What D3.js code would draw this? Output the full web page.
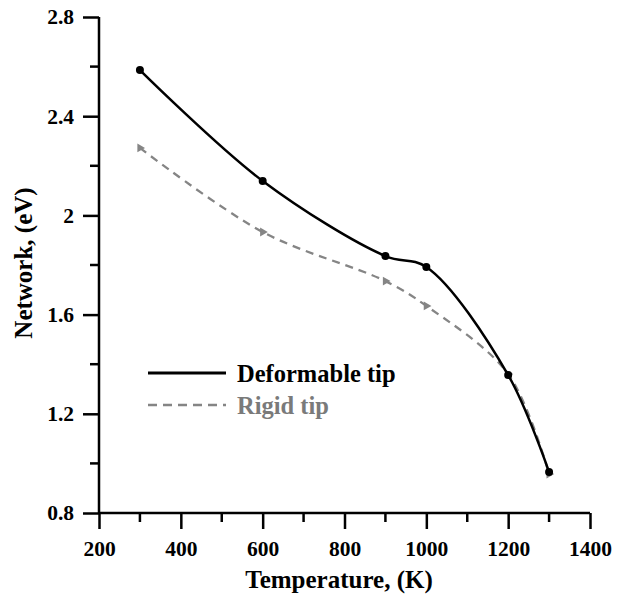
<!DOCTYPE html>
<html><head><meta charset="utf-8">
<script src="https://cdn.jsdelivr.net/npm/d3@7"></script>
<style>body{margin:0;background:#fff}svg{display:block}</style>
</head><body>
<svg id="c" width="623" height="598"></svg>
<script>
const temps = [300, 600, 900, 1000, 1200, 1300];
const deformable = [2.586, 2.139, 1.836, 1.792, 1.356, 0.965];
const rigid = [2.272, 1.933, 1.735, 1.635, 1.360, 0.957];
const xTicks = [200, 400, 600, 800, 1000, 1200, 1400];
const yTicks = [0.8, 1.2, 1.6, 2.0, 2.4, 2.8];
const seriesNames = ["Deformable tip", "Rigid tip"];

const svg = d3.select("#c");
const font = "'Liberation Serif','Times New Roman',serif";
const x = d3.scaleLinear().domain([200, 1400]).range([99, 590]);
const y = d3.scaleLinear().domain([0.8, 2.8]).range([513, 17]);

// axes
const xAxis = svg.append("g").attr("transform", `translate(0,${y(0.8)})`)
  .call(d3.axisBottom(x).tickValues(xTicks).tickFormat(d3.format("d")).tickSize(16).tickPadding(12));
const yAxis = svg.append("g").attr("transform", `translate(${x(200)},0)`)
  .call(d3.axisLeft(y).tickValues(yTicks).tickFormat(d => d === 2 ? "2" : d3.format(".1f")(d)).tickSize(16).tickPadding(9));
[xAxis, yAxis].forEach(a => {
  a.select(".domain").attr("stroke", "#000").attr("stroke-width", 2.5);
  a.selectAll(".tick line").attr("stroke", "#000").attr("stroke-width", 2.5);
  a.selectAll(".tick text").attr("font-family", font).attr("font-weight", "bold").attr("font-size", 21.5).attr("fill", "#000");
});
xAxis.select(".domain").attr("d", `M${x(200)},0H${x(1400)}`);
yAxis.select(".domain").attr("d", `M0,${y(0.8)}V${y(2.8)}`);
// minor ticks
const xMinor = d3.range(300, 1400, 200);
svg.append("g").selectAll("line").data(xMinor).join("line")
  .attr("x1", d => x(d)).attr("x2", d => x(d)).attr("y1", y(0.8)).attr("y2", y(0.8) + 9)
  .attr("stroke", "#000").attr("stroke-width", 2.5);
const yMinor = [1.0, 1.4, 1.8, 2.2, 2.6];
svg.append("g").selectAll("line").data(yMinor).join("line")
  .attr("x1", x(200) - 9).attr("x2", x(200)).attr("y1", d => y(d)).attr("y2", d => y(d))
  .attr("stroke", "#000").attr("stroke-width", 2.5);

// titles
svg.append("text").attr("x", 339).attr("y", 588).attr("text-anchor", "middle")
  .attr("font-family", font).attr("font-weight", "bold").attr("font-size", 25).text("Temperature, (K)");
svg.append("text").attr("transform", "translate(32,263) rotate(-90)").attr("text-anchor", "middle")
  .attr("font-family", font).attr("font-weight", "bold").attr("font-size", 25).text("Network, (eV)");

// lines
const line = d3.line().x((d, i) => x(temps[i])).y(d => y(d)).curve(d3.curveCatmullRom.alpha(0.5));
svg.append("path").attr("d", line(rigid)).attr("fill", "none").attr("stroke", "#858585")
  .attr("stroke-width", 2.3).attr("stroke-dasharray", "8,6");
svg.append("g").selectAll("path").data(rigid).join("path")
  .attr("d", d3.symbol(d3.symbolTriangle, 34)())
  .attr("transform", (d, i) => `translate(${x(temps[i])},${y(d)}) rotate(-30)`)
  .attr("fill", "#858585");
svg.append("path").attr("d", line(deformable)).attr("fill", "none").attr("stroke", "#000")
  .attr("stroke-width", 2.5);
svg.append("g").selectAll("circle").data(deformable).join("circle")
  .attr("cx", (d, i) => x(temps[i])).attr("cy", d => y(d)).attr("r", 4).attr("fill", "#000");

// legend
const leg = svg.append("g");
leg.append("line").attr("x1", 148).attr("x2", 226).attr("y1", 373).attr("y2", 373)
  .attr("stroke", "#000").attr("stroke-width", 2.8);
leg.append("text").attr("x", 237).attr("y", 382).attr("font-family", font).attr("font-weight", "bold")
  .attr("font-size", 24.5).attr("fill", "#000").text(seriesNames[0]);
leg.append("line").attr("x1", 148).attr("x2", 226).attr("y1", 405).attr("y2", 405)
  .attr("stroke", "#858585").attr("stroke-width", 2.3).attr("stroke-dasharray", "9,6");
leg.append("text").attr("x", 237).attr("y", 414).attr("font-family", font).attr("font-weight", "bold")
  .attr("font-size", 24.5).attr("fill", "#7a7a7a").text(seriesNames[1]);
</script>
</body></html>
